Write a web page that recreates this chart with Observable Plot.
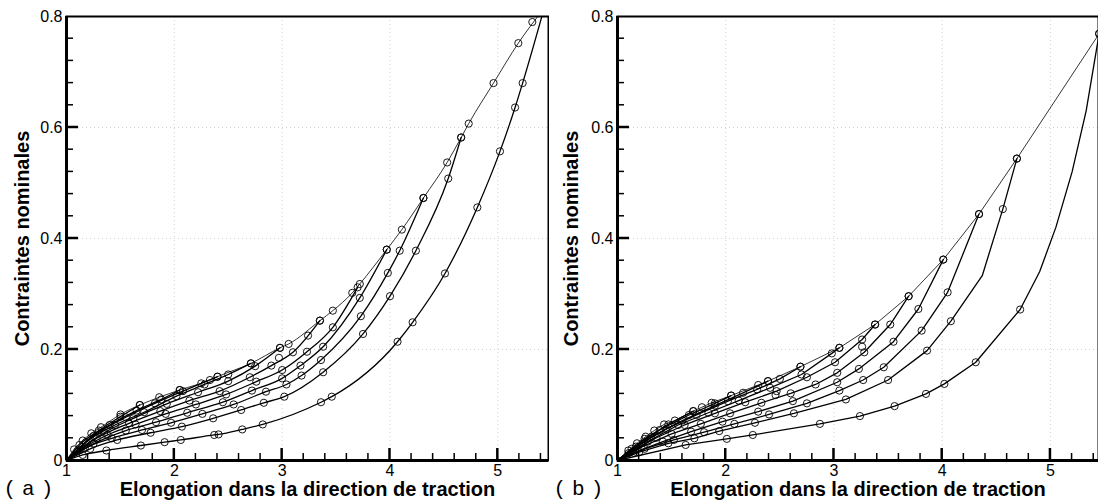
<!DOCTYPE html>
<html><head><meta charset="utf-8">
<script src="https://cdn.jsdelivr.net/npm/d3@7"></script>
<script src="https://cdn.jsdelivr.net/npm/@observablehq/plot@0.6"></script>
<style>
html,body{margin:0;padding:0;background:#fff;}
#wrap{display:flex;width:1098px;height:502px;overflow:hidden;}
#wrap svg{display:block;}
</style></head><body><div id="wrap"></div>
<script>
// ---------- Axis ticks / labels ----------
const xMajorTicks = [1, 2, 3, 4, 5];
const xMinorTicks = [1.2, 1.4, 1.6, 1.8, 2.2, 2.4, 2.6, 2.8, 3.2, 3.4, 3.6, 3.8, 4.2, 4.4, 4.6, 4.8, 5.2, 5.4];
const yMajorTicks = [0, 0.2, 0.4, 0.6, 0.8];
const yMinorTicks = [0.04, 0.08, 0.12, 0.16, 0.24, 0.28, 0.32, 0.36, 0.44, 0.48, 0.52, 0.56, 0.64, 0.68, 0.72, 0.76];
const xGrid = [2, 3, 4, 5];
const yGrid = [0.2, 0.4, 0.6];
const xTitle = "Elongation dans la direction de traction";
const yTitle = "Contraintes nominales";
const panelLetters = ["(a)", "(b)"];

// ---------- Panel (a) : [elongation, nominal stress] ----------
const aLoading = [[1,0],[1.07,0.020],[1.15,0.036],[1.23,0.049],[1.32,0.060],[1.50,0.083],[1.68,0.100],[1.86,0.114],[2.05,0.127],[2.33,0.145],[2.40,0.151],[2.71,0.175],[2.98,0.203],[3.06,0.210],[3.35,0.252],[3.47,0.270],[3.65,0.302],[3.72,0.318],[3.97,0.380],[4.11,0.416],[4.31,0.473],[4.53,0.537],[4.66,0.582],[4.73,0.607],[4.96,0.680],[5.19,0.752],[5.43,0.815]];
const aU545 = [[1,0],[1.15,0.010],[1.37,0.018],[1.69,0.027],[1.91,0.033],[2.06,0.037],[2.37,0.046],[2.41,0.047],[2.63,0.056],[2.82,0.065],[3.36,0.105],[3.46,0.115],[4.07,0.214],[4.21,0.249],[4.51,0.337],[4.81,0.456],[5.02,0.557],[5.16,0.636],[5.23,0.680],[5.43,0.815]];
const aU466 = [[1,0],[1.22,0.021],[1.47,0.037],[1.78,0.050],[2.07,0.061],[2.36,0.076],[2.62,0.091],[2.83,0.104],[3.02,0.115],[3.38,0.159],[3.75,0.228],[4.00,0.296],[4.24,0.378],[4.54,0.508],[4.66,0.582]];
const aU431 = [[1,0],[1.17,0.022],[1.42,0.040],[1.70,0.055],[1.97,0.068],[2.26,0.084],[2.55,0.101],[2.85,0.124],[3.04,0.137],[3.18,0.153],[3.36,0.181],[3.73,0.260],[3.98,0.338],[4.09,0.378],[4.31,0.473]];
const aU397 = [[1,0],[1.25,0.030],[1.55,0.054],[1.83,0.069],[2.12,0.086],[2.45,0.105],[2.72,0.126],[3.00,0.148],[3.17,0.171],[3.38,0.205],[3.72,0.293],[3.97,0.380]];
const aU370 = [[1,0],[1.13,0.019],[1.38,0.046],[1.64,0.065],[1.92,0.084],[2.20,0.101],[2.48,0.119],[2.76,0.142],[3.00,0.163],[3.23,0.196],[3.47,0.240],[3.70,0.312]];
const aU335 = [[1,0],[1.28,0.040],[1.58,0.067],[1.87,0.089],[2.14,0.108],[2.42,0.125],[2.70,0.150],[2.90,0.171],[3.10,0.195],[3.35,0.252]];
const aU300 = [[1,0],[1.10,0.017],[1.35,0.050],[1.62,0.076],[1.93,0.102],[2.22,0.123],[2.50,0.143],[2.75,0.170],[2.98,0.203]];
const aU270 = [[1,0],[1.18,0.033],[1.45,0.064],[1.72,0.087],[2.02,0.116],[2.28,0.137],[2.50,0.155],[2.71,0.175]];
const aU240 = [[1,0],[1.25,0.044],[1.55,0.078],[1.82,0.103],[2.08,0.125],[2.25,0.139],[2.40,0.151]];
const aU205 = [[1,0],[1.12,0.028],[1.40,0.064],[1.65,0.090],[1.88,0.110],[2.05,0.127]];
const aU168 = [[1,0],[1.30,0.054],[1.50,0.079],[1.68,0.100]];
const aStray = [[5.32,0.790],[3.24,0.225],[2.97,0.185]];

// ---------- Panel (b) ----------
const bLoading = [[1,0],[1.10,0.018],[1.18,0.031],[1.26,0.043],[1.34,0.054],[1.43,0.065],[1.53,0.072],[1.70,0.089],[1.78,0.096],[1.87,0.104],[2.05,0.117],[2.30,0.136],[2.39,0.143],[2.69,0.169],[3.05,0.203],[3.38,0.245],[3.69,0.296],[4.01,0.362],[4.34,0.444],[4.69,0.544],[5.45,0.769]];
const bU545 = [[1.63,0.028],[2.01,0.039],[2.25,0.046],[2.87,0.066],[3.24,0.080],[3.56,0.098],[3.85,0.120],[4.02,0.138],[4.31,0.177],[4.72,0.272],[5.45,0.769]];
const bU545Path = [[1,0],[4.90,0.340],[5.05,0.420],[5.20,0.520],[5.33,0.630]];
const bU469 = [[1.20,0.015],[1.47,0.031],[1.71,0.040],[1.94,0.053],[2.27,0.068],[2.63,0.085],[3.11,0.110],[3.50,0.145],[3.86,0.198],[4.08,0.251],[4.56,0.453],[4.69,0.544]];
const bU469Path = [[1,0],[4.37,0.333]];
const bU434 = [[1.25,0.021],[1.52,0.037],[1.80,0.051],[2.08,0.066],[2.40,0.083],[2.75,0.103],[3.05,0.126],[3.27,0.145],[3.46,0.168],[3.81,0.234],[4.05,0.303],[4.34,0.444]];
const bU401 = [[1.15,0.014],[1.42,0.034],[1.68,0.052],[1.97,0.070],[2.30,0.088],[2.62,0.107],[3.03,0.141],[3.23,0.165],[3.55,0.214],[3.78,0.273],[4.01,0.362]];
const bU369 = [[1.22,0.024],[1.50,0.048],[1.77,0.066],[2.04,0.085],[2.33,0.104],[2.60,0.121],[2.83,0.137],[3.03,0.158],[3.28,0.195],[3.52,0.245],[3.69,0.296]];
const bU338 = [[1.10,0.013],[1.36,0.041],[1.62,0.064],[1.90,0.085],[2.18,0.105],[2.47,0.125],[2.75,0.150],[3.01,0.177],[3.26,0.218],[3.38,0.245]];
const bU305 = [[1.28,0.034],[1.56,0.064],[1.84,0.086],[2.12,0.108],[2.41,0.131],[2.70,0.155],[2.98,0.193],[3.05,0.203]];
const bU269 = [[1.17,0.025],[1.45,0.057],[1.73,0.082],[2.02,0.107],[2.29,0.128],[2.50,0.147],[2.69,0.169]];
const bU239 = [[1.31,0.042],[1.60,0.072],[1.90,0.099],[2.16,0.122],[2.39,0.143]];
const bU205 = [[1.13,0.021],[1.39,0.055],[1.66,0.082],[1.90,0.103],[2.05,0.117]];
const bU170 = [[1.25,0.039],[1.47,0.065],[1.70,0.089]];
const bStray = [[2.46,0.118],[3.26,0.205]];

// ---------- build panels ----------
const W = 549, H = 502, MT = 16, MB = 42;
function buildPanel(cfg) {
  const origin = [1, 0];
  const unloadRows = [], loadRows = [], dotRows = [];
  cfg.unload.forEach((c, i) => {
    const extra = (cfg.paths && cfg.paths[i]) || [origin];
    const pts = [...c, ...extra].filter((p, j, arr) => arr.findIndex(q => q[0] === p[0] && q[1] === p[1]) === j);
    pts.sort((a, b) => a[0] - b[0]);
    pts.forEach(p => unloadRows.push({x: p[0], y: p[1], id: i}));
    c.forEach(p => { if (!(p[0] === 1 && p[1] === 0)) dotRows.push({x: p[0], y: p[1]}); });
  });
  cfg.loading.forEach(p => {
    loadRows.push({x: p[0], y: p[1]});
    if (!(p[0] === 1 && p[1] === 0) || cfg.originDot) dotRows.push({x: p[0], y: p[1]});
  });
  cfg.stray.forEach(p => dotRows.push({x: p[0], y: p[1]}));

  const fontTicks = "Liberation Sans, Arial, Helvetica, sans-serif";
  const svg = Plot.plot({
    width: W, height: H,
    marginTop: MT, marginBottom: MB, marginLeft: cfg.marginLeft, marginRight: cfg.marginRight,
    style: {fontFamily: fontTicks, fontSize: "16px", background: "white", color: "black"},
    x: {domain: [1, cfg.xMax]},
    y: {domain: [0, 0.8]},
    marks: [
      Plot.gridX(xGrid, {stroke: "#999", strokeOpacity: 0.45, strokeDasharray: "1,3"}),
      Plot.gridY(yGrid, {stroke: "#999", strokeOpacity: 0.45, strokeDasharray: "1,3"}),
      Plot.line(unloadRows, {x: "x", y: "y", z: "id", stroke: "black", strokeWidth: 1.3, curve: cfg.curve, clip: true}),
      Plot.line(loadRows, {x: "x", y: "y", stroke: "black", strokeWidth: 0.8, curve: cfg.curve, clip: true}),
      Plot.dot(dotRows, {x: "x", y: "y", r: 3.6, stroke: "black", strokeWidth: 0.9, fill: "none", clip: true}),
      Plot.frame({stroke: "black", strokeWidth: 2}),
      Plot.ruleX([1], {stroke: "black", strokeWidth: 3}),
      Plot.ruleY([0], {stroke: "black", strokeWidth: 3}),
      Plot.axisX(xMajorTicks, {tickSize: 0, tickPadding: 4, tickFormat: d => String(d), label: null, fontSize: 16}),
      Plot.axisY(yMajorTicks, {tickSize: 0, tickPadding: 4, tickFormat: d => d === 0 ? "0" : d.toFixed(1), label: null, fontSize: 16}),
      Plot.text([yTitle], {frameAnchor: "left", dx: -(cfg.marginLeft - 22), rotate: -90, textAnchor: "middle", fontWeight: "bold", fontSize: 20, fill: "black"}),
      Plot.text([xTitle], {frameAnchor: "bottom", dy: 29, textAnchor: "middle", fontWeight: "bold", fontSize: 20, fill: "black", lineAnchor: "middle"}),
      Plot.text([cfg.letter], {frameAnchor: "bottom-left", dx: -cfg.marginLeft + cfg.letterX, dy: 28, textAnchor: "start", lineAnchor: "middle", fontFamily: "Liberation Mono, Courier New, monospace", fontSize: 21, fill: "black"})
    ]
  });
  // inward ticks, placed with the chart's own scales
  const sx = svg.scale("x"), sy = svg.scale("y");
  const x0 = sx.apply(1), y0 = sy.apply(0);
  const g = d3.select(svg).append("g");
  const addX = (ticks, len, w) => ticks.forEach(v => g.append("line")
    .attr("x1", sx.apply(v)).attr("x2", sx.apply(v)).attr("y1", y0).attr("y2", y0 - len)
    .attr("stroke", "black").attr("stroke-width", w));
  const addY = (ticks, len, w) => ticks.forEach(v => g.append("line")
    .attr("y1", sy.apply(v)).attr("y2", sy.apply(v)).attr("x1", x0).attr("x2", x0 + len)
    .attr("stroke", "black").attr("stroke-width", w));
  addX(xMajorTicks.slice(1), 12, 2.5);
  addX(xMinorTicks, 7, 1.5);
  addY(yMajorTicks.slice(1, 4), 12, 2.5);
  addY(yMinorTicks, 7, 1.5);
  d3.select(svg).selectAll("text").filter(function() { return this.textContent === cfg.letter; })
    .style("letter-spacing", "6px");
  return svg;
}

const panelA = buildPanel({
  loading: aLoading,
  unload: [aU545, aU466, aU431, aU397, aU370, aU335, aU300, aU270, aU240, aU205, aU168],
  stray: aStray, curve: "monotone-x", xMax: 5.47, marginLeft: 66, marginRight: 1,
  letter: panelLetters[0], letterX: 3, originDot: false
});
const panelB = buildPanel({
  loading: bLoading,
  unload: [bU545, bU469, bU434, bU401, bU369, bU338, bU305, bU269, bU239, bU205, bU170],
  paths: [bU545Path, bU469Path],
  stray: bStray, curve: "linear", xMax: 5.444, marginLeft: 68, marginRight: 0,
  letter: panelLetters[1], letterX: 4, originDot: true
});
document.getElementById("wrap").append(panelA, panelB);
</script>
</body></html>
